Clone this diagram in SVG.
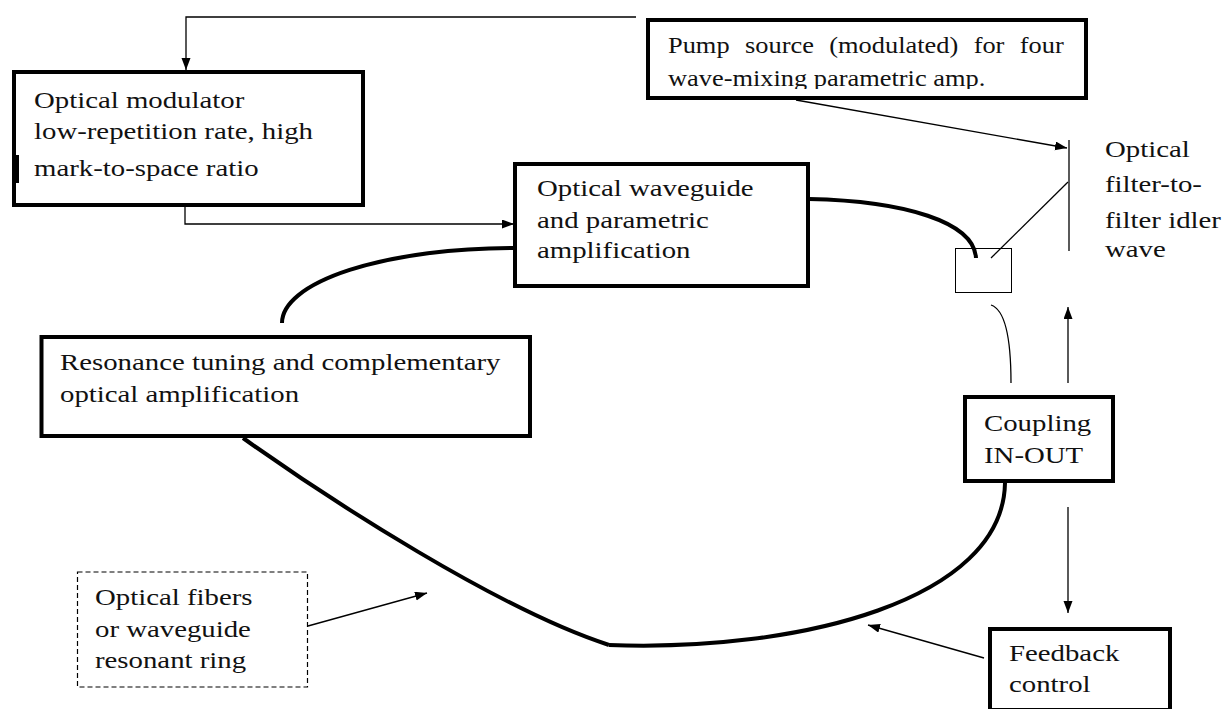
<svg xmlns="http://www.w3.org/2000/svg" width="1223" height="709" viewBox="0 0 1223 709">
<style>
.box{fill:#fff;stroke:#000;stroke-width:4}
.t{font-family:"Liberation Serif","Times New Roman",serif;font-size:24px;fill:#111}
.thin{fill:none;stroke:#000;stroke-width:1.3}
.ring{fill:none;stroke:#000;stroke-width:4}
.arr{fill:none;stroke:#000;stroke-width:1.3;marker-end:url(#ah)}
</style>
<defs>
<marker id="ah" markerUnits="userSpaceOnUse" markerWidth="13" markerHeight="10" refX="12" refY="4.5" orient="auto"><path d="M0,0 L12,4.5 L0,9 z" fill="#000"/></marker>
<clipPath id="pclip"><rect x="640" y="0" width="460" height="89"/></clipPath>
</defs>
<rect width="1223" height="709" fill="#fff"/>

<g id="connectors">
<path class="arr" d="M636,17 H186 V70"/>
<path class="arr" d="M185,180 V224 H514"/>
<path class="arr" d="M796,100 L1067,148"/>
<path class="thin" d="M1069,140 V251"/>
<path class="thin" d="M1068,182 L991,258"/>
<path class="ring" d="M809,199 C905,201 974,222 976,258"/>
<path class="thin" d="M991,305 C1006,310 1011,340 1011,383"/>
<path class="arr" d="M1068,383 V307"/>
<path class="arr" d="M1068,507 V613"/>
<path class="arr" d="M984,658 L868,625"/>
<path class="arr" d="M308,626 L427,593"/>
<path class="ring" d="M282,323 A231,75 0 0 1 513,248"/>
<path class="ring" d="M243,438 C330,500 500,610 609,645"/>
<path class="ring" d="M609,645 C800,652 1003,600 1005,483"/>
</g>

<g id="modulator">
<rect class="box" x="14" y="72" width="349" height="133"/>
<rect x="15" y="155" width="4" height="28" fill="#000"/>
<text class="t" transform="translate(34,108) scale(1.2,1)">Optical modulator</text>
<text class="t" transform="translate(34,139) scale(1.2,1)">low-repetition rate, high</text>
<text class="t" transform="translate(34,176) scale(1.2,1)">mark-to-space ratio</text>
</g>

<g id="pump">
<rect class="box" x="648" y="20" width="438" height="78"/>
<text class="t" transform="translate(668,53) scale(1.1,1)" word-spacing="8">Pump source (modulated) for four</text>
<g clip-path="url(#pclip)"><text class="t" transform="translate(668,86) scale(1.1,1)">wave-mixing parametric amp.</text></g>
</g>

<g id="filter">
<rect x="955.5" y="248.5" width="56" height="44" fill="none" stroke="#000" stroke-width="1"/>
<text class="t" transform="translate(1105,157) scale(1.2,1)">Optical</text>
<text class="t" transform="translate(1105,192) scale(1.2,1)">filter-to-</text>
<text class="t" transform="translate(1105,228) scale(1.2,1)">filter idler</text>
<text class="t" transform="translate(1105,257) scale(1.2,1)">wave</text>
</g>

<g id="waveguide">
<rect class="box" x="515" y="164" width="293" height="122"/>
<text class="t" transform="translate(537,196) scale(1.2,1)">Optical waveguide</text>
<text class="t" transform="translate(537,228) scale(1.2,1)">and parametric</text>
<text class="t" transform="translate(537,258) scale(1.2,1)">amplification</text>
</g>

<g id="resonance">
<rect class="box" x="41.5" y="337" width="488.5" height="99"/>
<text class="t" transform="translate(60,370) scale(1.2,1)">Resonance tuning and complementary</text>
<text class="t" transform="translate(60,402) scale(1.2,1)">optical amplification</text>
</g>

<g id="coupling">
<rect class="box" x="965" y="397" width="148" height="84"/>
<text class="t" transform="translate(984,431) scale(1.2,1)">Coupling</text>
<text class="t" transform="translate(984,463) scale(1.2,1)">IN-OUT</text>
</g>

<g id="feedback">
<rect class="box" x="990" y="629" width="180" height="81"/>
<text class="t" transform="translate(1009,661) scale(1.2,1)">Feedback</text>
<text class="t" transform="translate(1009,692) scale(1.2,1)">control</text>
</g>

<g id="fibers">
<rect x="77.5" y="572" width="230" height="115" fill="#fff" stroke="#000" stroke-width="1.2" stroke-dasharray="5,3"/>
<text class="t" transform="translate(95,605) scale(1.2,1)">Optical fibers</text>
<text class="t" transform="translate(95,637) scale(1.2,1)">or waveguide</text>
<text class="t" transform="translate(95,668) scale(1.2,1)">resonant ring</text>
</g>
</svg>
